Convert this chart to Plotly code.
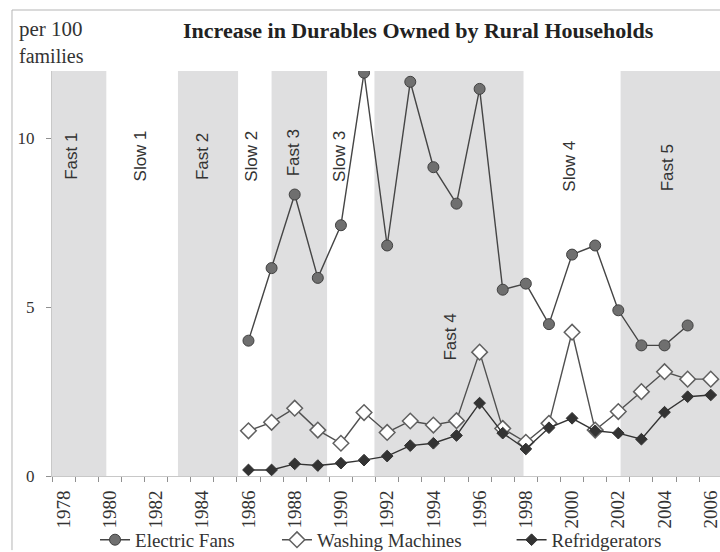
import plotly.graph_objects as go

# Survey years and values (units per 100 rural families)
fan_years = list(range(1986, 2006))
electric_fans = [4.01, 6.16, 8.34, 5.87, 7.43, 11.95, 6.83, 11.68, 9.15, 8.07,
                 11.47, 5.52, 5.70, 4.50, 6.56, 6.83, 4.91, 3.87, 3.87, 4.46]

appliance_years = list(range(1986, 2007))
washing_machines = [1.34, 1.59, 2.01, 1.36, 0.97, 1.88, 1.29, 1.63, 1.51, 1.64,
                    3.67, 1.41, 1.00, 1.56, 4.26, 1.36, 1.91, 2.50, 3.09, 2.87, 2.87]
refrigerators = [0.18, 0.18, 0.36, 0.31, 0.38, 0.47, 0.59, 0.90, 0.97, 1.20,
                 2.16, 1.27, 0.80, 1.43, 1.71, 1.34, 1.27, 1.09, 1.89, 2.35, 2.40]

year_ticks = list(range(1978, 2007, 2))
y_ticks = [0, 5, 10]

# Fast-growth periods (shaded) as (start, end) in axis years
fast_periods = [(1977.5, 1979.85), (1982.95, 1985.55), (1987.0, 1989.4),
                (1991.45, 1997.9), (2002.1, 2006.6)]

# Period names and where their labels sit (year, value)
period_labels = ["Fast 1", "Slow 1", "Fast 2", "Slow 2", "Fast 3",
                 "Slow 3", "Fast 4", "Slow 4", "Fast 5"]
label_pos = [(1978.34, 9.47), (1981.31, 9.47), (1984.02, 9.47), (1986.13, 9.47),
             (1987.94, 9.57), (1989.91, 9.48), (1994.73, 4.11), (1999.89, 9.18),
             (2004.11, 9.12)]

SERIF = "Liberation Serif, Times New Roman, serif"
SANS = "Liberation Sans, Arial, sans-serif"

fig = go.Figure()

fig.add_trace(go.Scatter(
    x=fan_years, y=electric_fans, name="Electric Fans", mode="lines+markers",
    line=dict(color="#454545", width=1.4),
    marker=dict(symbol="circle", size=11, color="#6f6f6f",
                line=dict(color="#404040", width=1)),
    legend="legend",
))
fig.add_trace(go.Scatter(
    x=appliance_years, y=washing_machines, name="Washing Machines",
    mode="lines+markers",
    line=dict(color="#505050", width=1.4),
    marker=dict(symbol="diamond", size=12, color="white",
                line=dict(color="#606060", width=1.5)),
    legend="legend2",
))
fig.add_trace(go.Scatter(
    x=appliance_years, y=refrigerators, name="Refridgerators",
    mode="lines+markers",
    line=dict(color="#333333", width=1.4),
    marker=dict(symbol="diamond", size=9, color="#333333",
                line=dict(color="#333333", width=1)),
    legend="legend3",
))

shapes = []
for x0, x1 in fast_periods:
    shapes.append(dict(type="rect", xref="x", yref="y", x0=x0, x1=x1, y0=0, y1=12,
                       fillcolor="#dfdfe0", line=dict(width=0), layer="below"))

# chart-area frame (top and left edges)
shapes.append(dict(type="line", xref="paper", yref="paper", x0=-0.0599, x1=1.1,
                   y0=1.1506, y1=1.1506, line=dict(color="#b5b5b5", width=1)))
shapes.append(dict(type="line", xref="paper", yref="paper", x0=-0.0599, x1=-0.0599,
                   y0=-0.183, y1=1.1506, line=dict(color="#b5b5b5", width=1)))

annotations = []
for name, (lx, ly) in zip(period_labels, label_pos):
    annotations.append(dict(x=lx, y=ly, xref="x", yref="y", text=name,
                            textangle=-90, showarrow=False,
                            xanchor="center", yanchor="middle",
                            font=dict(family=SANS, size=17, color="#333333")))

annotations.append(dict(x=0.548, y=1.0988, xref="paper", yref="paper",
                        text="<b>Increase in Durables Owned by Rural Households</b>",
                        showarrow=False, xanchor="center", yanchor="middle",
                        font=dict(family=SERIF, size=22, color="#222222")))
annotations.append(dict(x=-0.0524, y=1.104, xref="paper", yref="paper",
                        text="per 100", showarrow=False, xanchor="left",
                        yanchor="middle",
                        font=dict(family=SERIF, size=21, color="#333333")))
annotations.append(dict(x=-0.0524, y=1.036, xref="paper", yref="paper",
                        text="families", showarrow=False, xanchor="left",
                        yanchor="middle",
                        font=dict(family=SERIF, size=20, color="#333333")))

legend_font = dict(family=SERIF, size=19, color="#333333")
legend_common = dict(orientation="h", yref="container", y=0.022,
                     xanchor="left", yanchor="middle",
                     font=legend_font, bgcolor="rgba(0,0,0,0)")

fig.update_layout(
    width=720, height=552,
    margin=dict(l=52, r=0, t=71, b=76),
    paper_bgcolor="white", plot_bgcolor="white",
    shapes=shapes, annotations=annotations,
    showlegend=True,
    legend=dict(x=0.0644, **legend_common),
    legend2=dict(x=0.3368, **legend_common),
    legend3=dict(x=0.6880, **legend_common),
    hovermode=False,
)

fig.update_xaxes(
    range=[1977.5, 2006.4], tickmode="array", tickvals=year_ticks,
    ticktext=[str(v) for v in year_ticks], tickangle=-90,
    ticks="outside", ticklen=6, tickcolor="rgba(0,0,0,0)",
    ticklabeloverflow="allow", automargin=False,
    tickfont=dict(family=SERIF, size=19, color="#333333"),
    showgrid=False, zeroline=False,
    showline=True, linecolor="#c8c8c8", linewidth=1,
    minor=dict(tickmode="linear", tick0=1977.5, dtick=1, ticks="outside",
               ticklen=5, tickcolor="#909090", showgrid=False),
)
fig.update_yaxes(
    range=[0, 12], tickmode="array", tickvals=y_ticks,
    ticks="outside", ticklen=5, tickcolor="#909090",
    ticklabelstandoff=8, automargin=False,
    tickfont=dict(family=SERIF, size=17, color="#333333"),
    showgrid=False, zeroline=False,
    showline=True, linecolor="#c8c8c8", linewidth=1,
)

fig.write_html("out.html")
